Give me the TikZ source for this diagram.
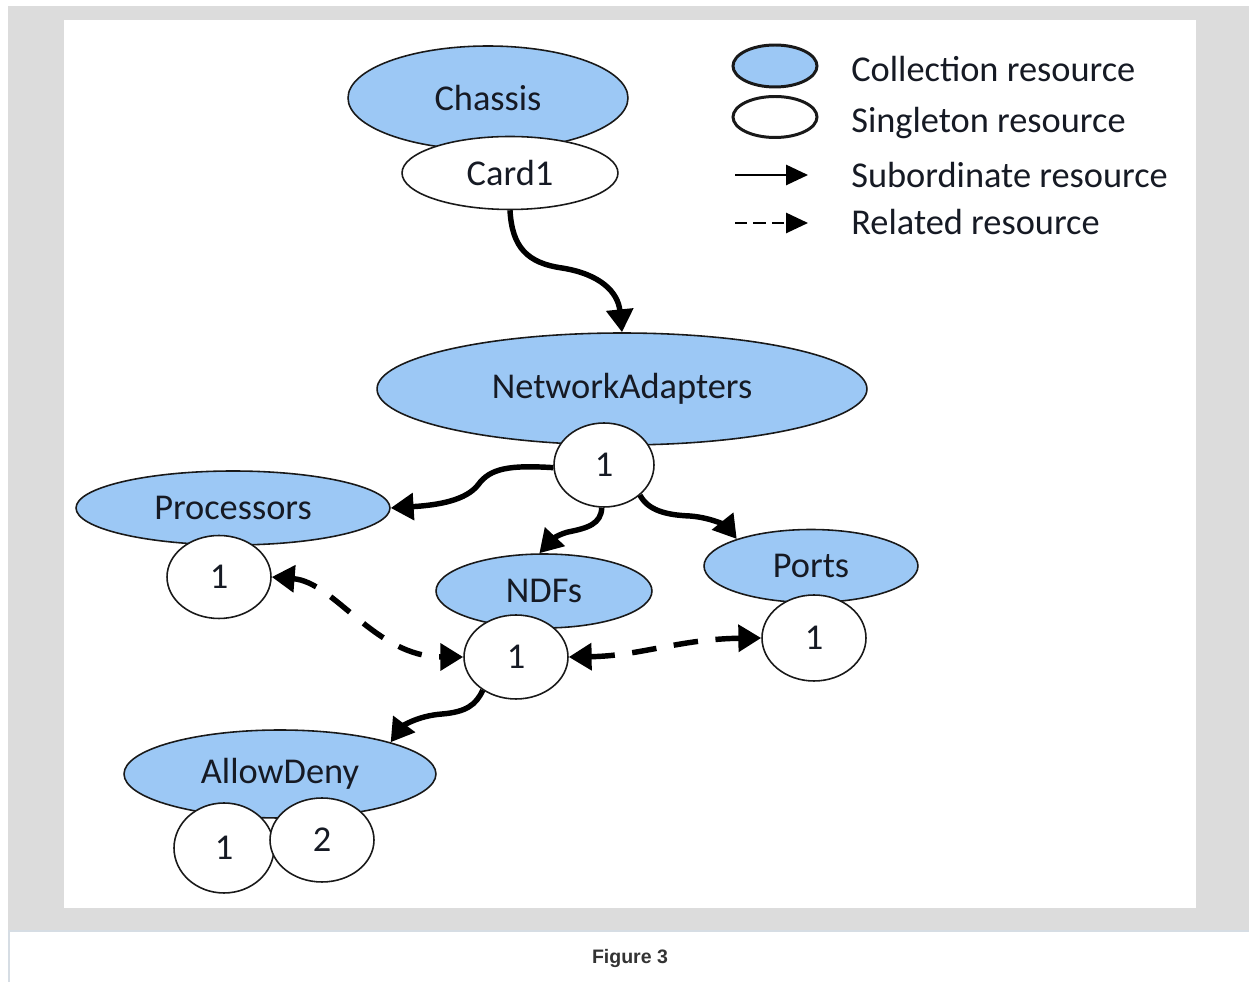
\documentclass[tikz,border=0pt]{standalone}
\usepackage{fontspec}
\setmainfont{Carlito}
\newfontfamily\capfont{Liberation Sans}
\usetikzlibrary{shapes.geometric,arrows.meta}
\definecolor{cblue}{RGB}{156,200,245}
\definecolor{bggray}{RGB}{220,220,220}
\definecolor{sepline}{RGB}{214,221,228}
\definecolor{txt}{RGB}{22,26,36}
\definecolor{captxt}{RGB}{51,51,51}
\begin{document}
\begin{tikzpicture}[x=0.02cm,y=-0.02cm,
  res/.style={ellipse,draw=black!90,line width=0.9pt,inner sep=0pt,text=txt,
    font=\fontsize{20.7}{24}\selectfont},
  coll/.style={res,fill=cblue},
  single/.style={res,fill=white},
  subarrow/.style={line width=3.1pt,-{Triangle[length=13pt,width=15pt]}},
  relarrow/.style={line width=3.1pt,dash pattern=on 14pt off 10pt,
    {Triangle[length=13pt,width=15pt]}-{Triangle[length=13pt,width=15pt]}},
  legtext/.style={anchor=base west,inner sep=0pt,text=txt,font=\fontsize{20.7}{24}\selectfont},
  ]
\useasboundingbox (0,0) rectangle (1249,982);
% frame
\fill[white] (0,0) rectangle (1249,982);
\fill[bggray] (8,6) rectangle (1249,931);
\fill[sepline] (8,930.5) rectangle (1249,932);
\fill[sepline] (8,931) rectangle (10,982);
\fill[white] (64,20) rectangle (1196,908);

% collection + singleton nodes
\node[coll,minimum width=5.6cm,minimum height=2.08cm] (chassis) at (488,98) {Chassis};
\node[single,minimum width=4.32cm,minimum height=1.46cm] (card1) at (510,173) {Card1};
\node[coll,minimum width=9.8cm,minimum height=2.24cm] (na) at (622,389) {NetworkAdapters};
\node[single,minimum width=2cm,minimum height=1.68cm] (na1) at (604,465) {1};
\node[coll,minimum width=6.28cm,minimum height=1.48cm] (proc) at (233,508) {Processors};
\node[single,minimum width=2.08cm,minimum height=1.66cm] (proc1) at (219,577) {1};
\node[coll,minimum width=4.32cm,minimum height=1.48cm] (ndfs) at (544,591) {NDFs};
\node[single,minimum width=2.08cm,minimum height=1.68cm] (ndf1) at (516,657) {1};
\node[coll,minimum width=4.28cm,minimum height=1.46cm] (ports) at (811,566) {Ports};
\node[single,minimum width=2.08cm,minimum height=1.72cm] (ports1) at (814,638) {1};
\node[coll,minimum width=6.24cm,minimum height=1.76cm] (ad) at (280,774) {AllowDeny};
\node[single,minimum width=2cm,minimum height=1.8cm] (ad1) at (224,848) {1};
\node[single,minimum width=2.08cm,minimum height=1.68cm] (ad2) at (322,840) {2};

% subordinate connectors
\draw[subarrow] (card1.south) .. controls (512,247) and (527,263) .. (562,268)
  .. controls (600,274) and (618,292) .. (na.north);
\draw[subarrow] (na1.183) .. controls (510,465) and (490,468) .. (478,485)
  .. controls (466,500) and (440,505) .. (proc.east);
\draw[subarrow] (na1.-93) .. controls (601,524) and (588,528) .. (568,532)
  .. controls (553,536) and (549,543) .. (ndfs.97);
\draw[subarrow] (na1.-40) .. controls (648,510) and (665,515) .. (690,516)
  .. controls (715,518) and (728,528) .. (ports.160);
\draw[subarrow] (ndf1.-135) .. controls (476,705) and (466,712) .. (442,714)
  .. controls (416,716) and (402,727) .. (ad.16);

% related connectors
\draw[relarrow] (proc1.east) .. controls (335,582) and (375,657) .. (ndf1.west);
\draw[relarrow] (ndf1.east) .. controls (640,656) and (680,639) .. (ports1.west);

% legend
\node[coll,line width=1.7pt,minimum width=1.68cm,minimum height=0.84cm] (lcoll) at (775,66) {};
\node[single,line width=1.7pt,minimum width=1.68cm,minimum height=0.82cm] (lsing) at (775,117) {};
\coordinate (lsubA) at (735,175);
\coordinate (lsubB) at (808,175);
\coordinate (lrelA) at (735,223);
\coordinate (lrelB) at (808,223);
\draw[line width=1.2pt,-{Triangle[length=12.5pt,width=11.5pt]}] (lsubA) -- (lsubB);
\draw[line width=1.2pt,dash pattern=on 7pt off 3.5pt,-{Triangle[length=12.5pt,width=11.5pt]}] (lrelA) -- (lrelB);
\node[legtext] (tcoll) at (851,82) {Collection resource};
\node[legtext] (tsing) at (851,133) {Singleton resource};
\node[legtext] (tsub) at (851,188) {Subordinate resource};
\node[legtext] (trel) at (851,235) {Related resource};

% caption
\node[anchor=base,inner sep=0pt,text=captxt,font=\capfont\bfseries\fontsize{11.1}{13}\selectfont] (cap) at (630,964) {Figure 3};
\end{tikzpicture}
\end{document}
